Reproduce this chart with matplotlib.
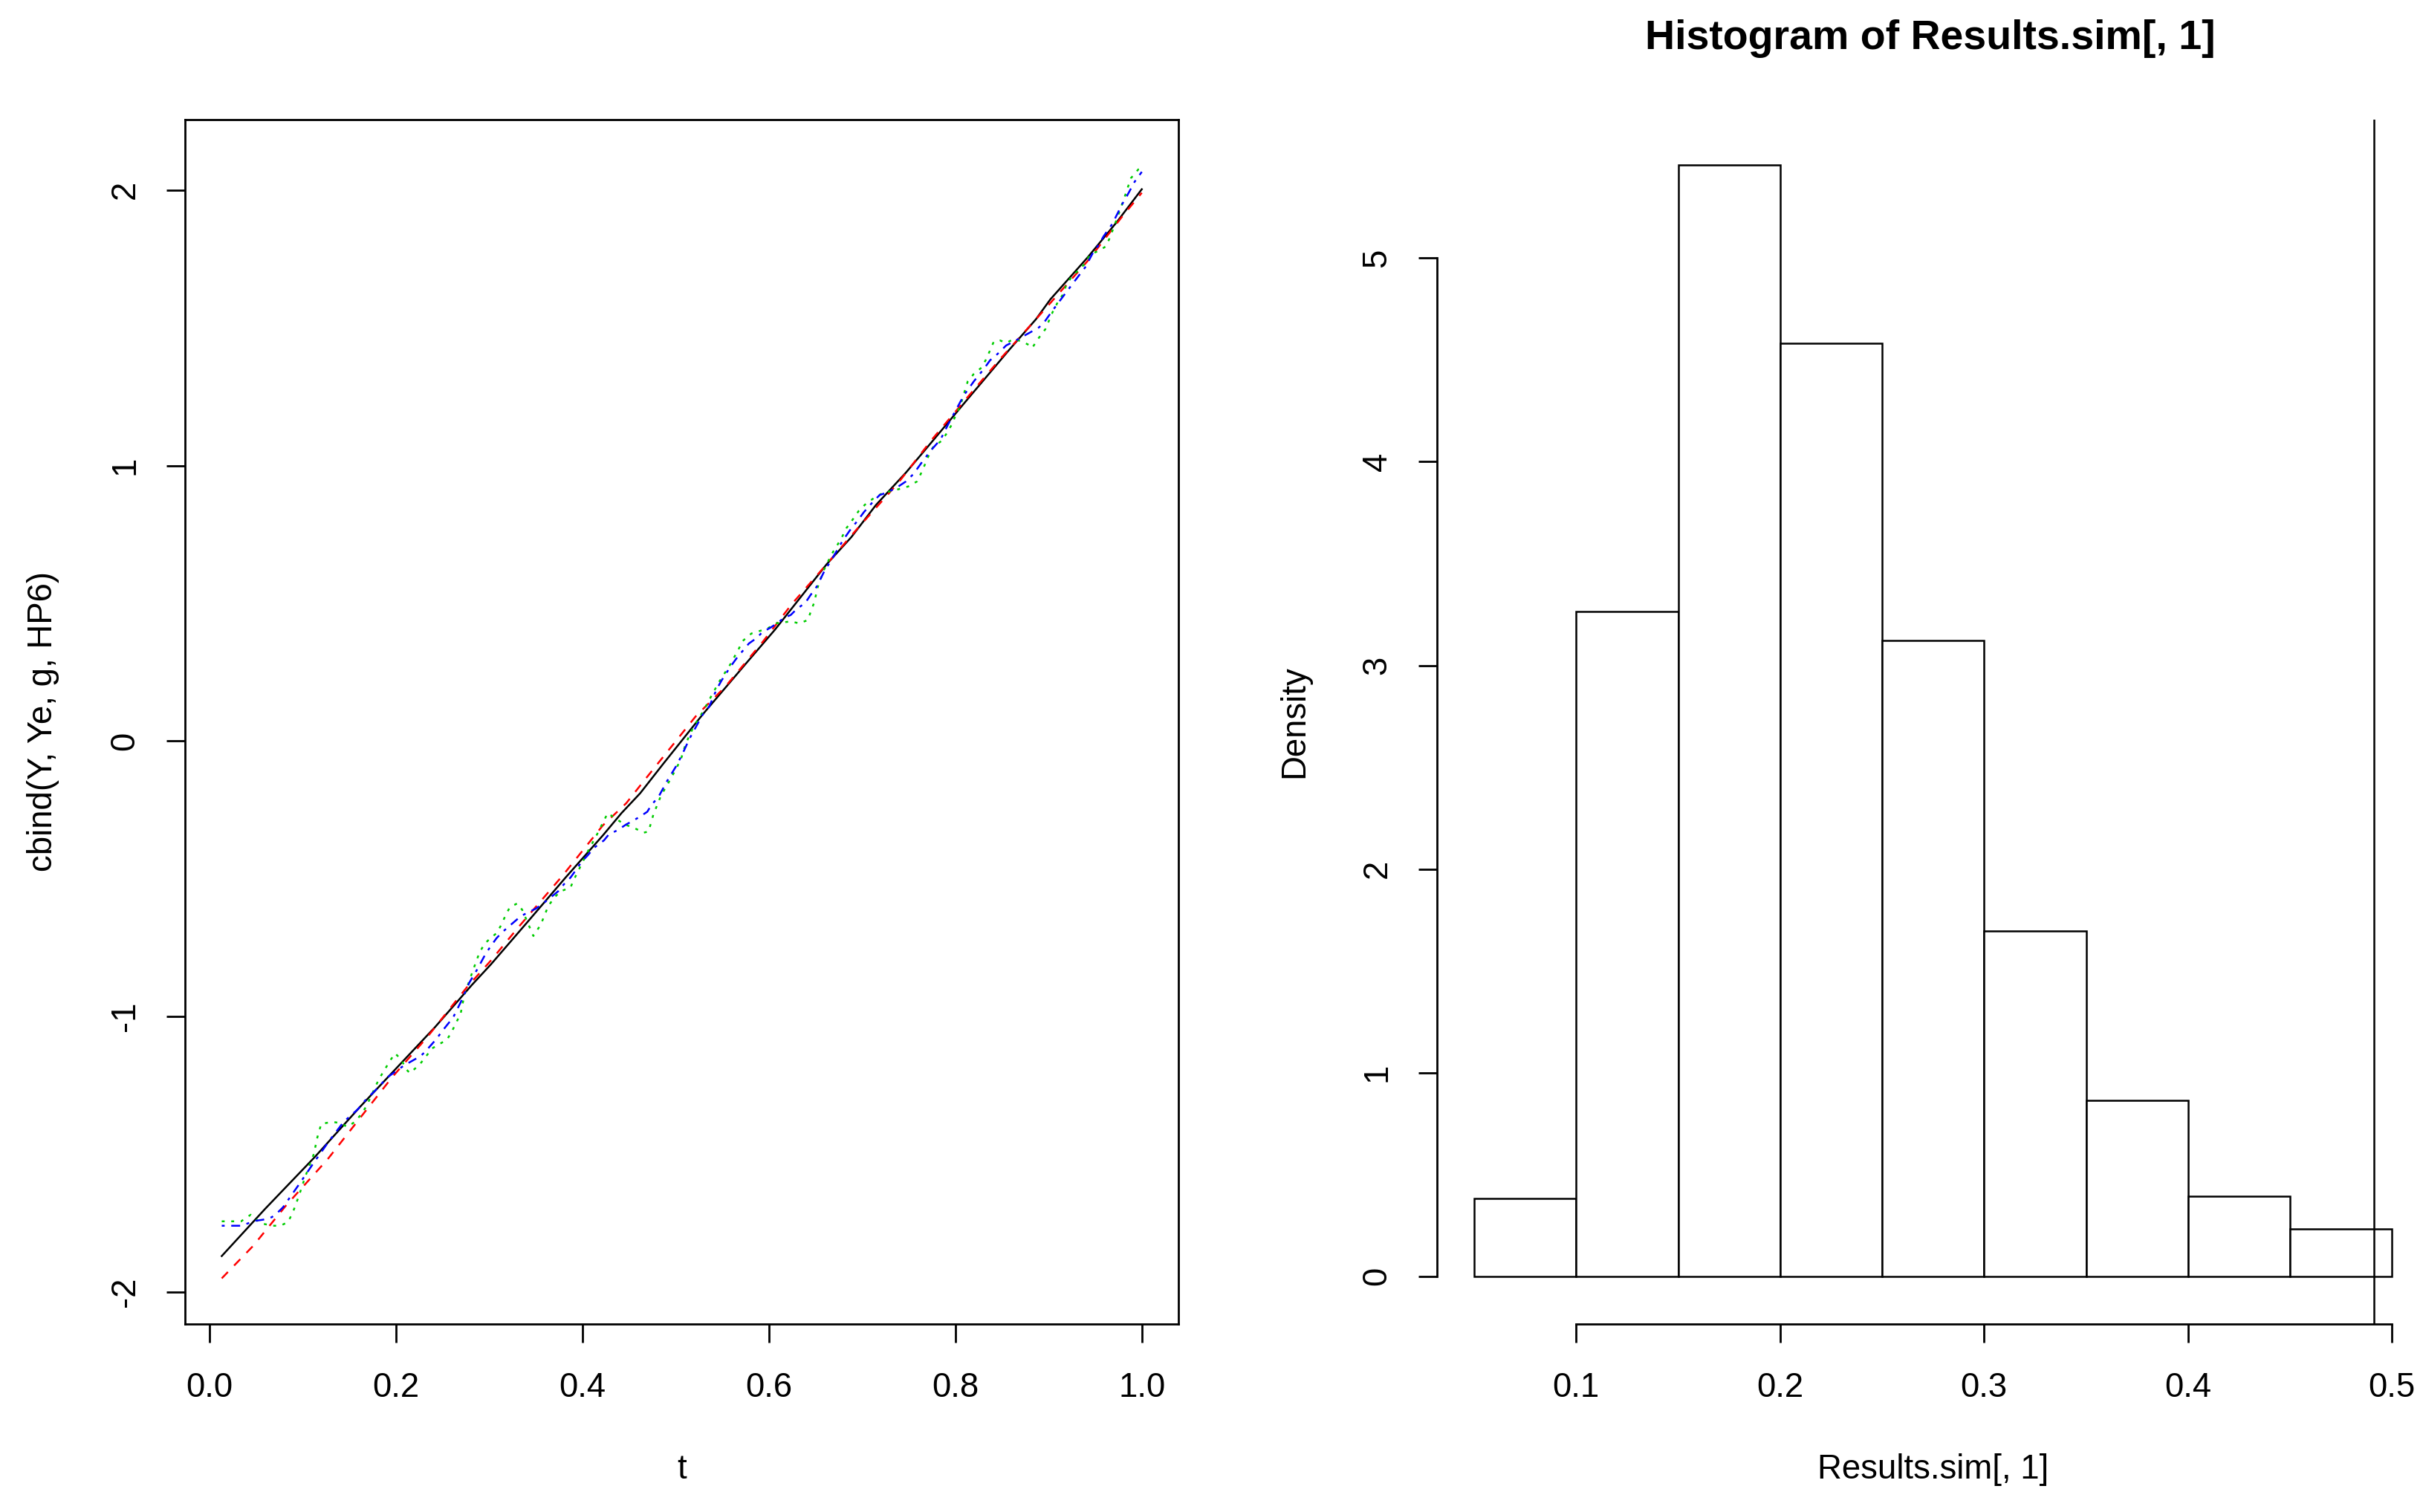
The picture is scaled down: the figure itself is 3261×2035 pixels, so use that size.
import matplotlib
matplotlib.use("Agg")
import matplotlib.pyplot as plt

plt.rcParams['font.family'] = ['Liberation Sans', 'DejaVu Sans']
plt.rcParams['axes.unicode_minus'] = False
plt.rcParams['lines.scale_dashes'] = False

# ---------------- data: left panel (matplot of Y, Ye, g, HP6 vs t) ----------------
t_Y = [0.0133, 0.060, 0.1135, 0.162, 0.202, 0.242, 0.2815, 0.302, 0.341, 0.382, 0.422,
       0.442, 0.462, 0.487, 0.5295, 0.5747, 0.6066, 0.6619, 0.6885, 0.715, 0.747, 0.7749,
       0.8147, 0.8573, 0.8865, 0.9019, 0.9418, 0.9737, 1.000]
Y = [-1.870, -1.698, -1.509, -1.327, -1.183, -1.039, -0.886, -0.811, -0.658, -0.496, -0.343,
     -0.262, -0.190, -0.082, 0.098, 0.278, 0.404, 0.641, 0.740, 0.857, 0.974, 1.086,
     1.247, 1.418, 1.531, 1.603, 1.755, 1.886, 2.003]

t_Ye = [0.0133, 0.047, 0.0816, 0.127, 0.1667, 0.196, 0.2337, 0.276, 0.302, 0.3315, 0.3793,
        0.4219, 0.4471, 0.467, 0.5215, 0.5534, 0.5933, 0.6247, 0.6619, 0.694, 0.739, 0.7749,
        0.8174, 0.8493, 0.8865, 0.9418, 0.979, 1.000]
Ye = [-1.951, -1.833, -1.689, -1.518, -1.347, -1.221, -1.075, -0.895, -0.797, -0.676, -0.487,
      -0.307, -0.226, -0.141, 0.089, 0.197, 0.359, 0.497, 0.641, 0.767, 0.938, 1.094,
      1.265, 1.391, 1.531, 1.742, 1.904, 1.990]

t_g = [0.0133, 0.034, 0.0444, 0.055, 0.068, 0.076, 0.0843, 0.0896, 0.096, 0.1029, 0.112,
       0.116, 0.120, 0.132, 0.140, 0.148, 0.156, 0.164, 0.1693, 0.1818, 0.1938, 0.1991,
       0.2057, 0.2111, 0.2151, 0.2257, 0.239, 0.255, 0.2603, 0.2695, 0.2735, 0.2828, 0.2895,
       0.2948, 0.3014, 0.308, 0.3134, 0.3174, 0.3222, 0.3301, 0.3355, 0.3435, 0.3475, 0.3554,
       0.3634, 0.370, 0.3767, 0.3873, 0.3913, 0.3966, 0.4059, 0.4152, 0.4245, 0.4272, 0.4372,
       0.4452, 0.4551, 0.4657, 0.471, 0.4763, 0.4843, 0.495, 0.5056, 0.5109, 0.5189, 0.5295,
       0.5388, 0.5468, 0.5587, 0.568, 0.572, 0.5813, 0.5986, 0.6073, 0.6234, 0.6326, 0.642,
       0.6446, 0.6486, 0.6526, 0.659, 0.6672, 0.6738, 0.6792, 0.6831, 0.6898, 0.6964, 0.7044,
       0.7137, 0.7217, 0.7403, 0.7496, 0.7589, 0.7642, 0.7709, 0.7762, 0.7855, 0.7908, 0.7961,
       0.8001, 0.8054, 0.808, 0.8134, 0.820, 0.828, 0.8333, 0.8413, 0.848, 0.8546, 0.8626,
       0.8719, 0.8798, 0.8825, 0.8886, 0.8966, 0.9045, 0.9099, 0.9152, 0.9192, 0.9245, 0.9312,
       0.9392, 0.9444, 0.9551, 0.9617, 0.9657, 0.9737, 0.9817, 0.9883, 0.9963, 1.000]
g = [-1.744, -1.744, -1.720, -1.751, -1.760, -1.760, -1.747, -1.711, -1.652, -1.581, -1.500,
     -1.437, -1.390, -1.383, -1.387, -1.401, -1.383, -1.351, -1.320, -1.228, -1.161, -1.134,
     -1.156, -1.192, -1.206, -1.174, -1.116, -1.084, -1.053, -0.990, -0.922, -0.832, -0.770,
     -0.738, -0.716, -0.698, -0.666, -0.635, -0.604, -0.590, -0.613, -0.676, -0.708, -0.667,
     -0.600, -0.568, -0.546, -0.532, -0.501, -0.465, -0.401, -0.343, -0.280, -0.262, -0.285,
     -0.303, -0.315, -0.333, -0.329, -0.266, -0.199, -0.136, -0.068, -0.010, 0.049, 0.107,
     0.166, 0.215, 0.278, 0.336, 0.363, 0.390, 0.408, 0.427, 0.434, 0.427, 0.439,
     0.466, 0.502, 0.560, 0.620, 0.677, 0.713, 0.745, 0.772, 0.803, 0.835, 0.862,
     0.884, 0.899, 0.915, 0.924, 0.942, 0.978, 1.032, 1.067, 1.090, 1.117, 1.148,
     1.180, 1.216, 1.247, 1.306, 1.333, 1.355, 1.387, 1.450, 1.454, 1.445, 1.459,
     1.450, 1.436, 1.427, 1.459, 1.495, 1.558, 1.593, 1.620, 1.657, 1.684, 1.706,
     1.733, 1.765, 1.782, 1.796, 1.827, 1.899, 1.976, 2.043, 2.075, 2.080]

t_HP6 = [0.0133, 0.034, 0.0417, 0.0497, 0.0577, 0.067, 0.0736, 0.079, 0.0856, 0.0976, 0.111,
         0.127, 0.144, 0.159, 0.1672, 0.1752, 0.1832, 0.1898, 0.1964, 0.2084, 0.2177, 0.227,
         0.2323, 0.243, 0.251, 0.2616, 0.2695, 0.2789, 0.2868, 0.2961, 0.3014, 0.308, 0.3142,
         0.3248, 0.3341, 0.3421, 0.3501, 0.358, 0.366, 0.374, 0.3806, 0.3873, 0.3939, 0.3993,
         0.4059, 0.4125, 0.4232, 0.4285, 0.4378, 0.4471, 0.4537, 0.4617, 0.4697, 0.4737, 0.4817,
         0.491, 0.5016, 0.5082, 0.5149, 0.5215, 0.5295, 0.5361, 0.5441, 0.5494, 0.5587, 0.5654,
         0.572, 0.5787, 0.5867, 0.5928, 0.6021, 0.610, 0.6167, 0.6234, 0.630, 0.6393, 0.6446,
         0.6513, 0.6592, 0.6699, 0.6792, 0.6885, 0.6951, 0.7018, 0.7124, 0.719, 0.727, 0.739,
         0.747, 0.7536, 0.7589, 0.7655, 0.7749, 0.7841, 0.7921, 0.8001, 0.8094, 0.820, 0.8307,
         0.8373, 0.8453, 0.8546, 0.8639, 0.8727, 0.8807, 0.890, 0.8966, 0.9033, 0.9152, 0.9272,
         0.9392, 0.9471, 0.9537, 0.959, 0.9683, 0.9737, 0.979, 0.9843, 0.9923, 1.000]
HP6 = [-1.760, -1.760, -1.751, -1.742, -1.738, -1.729, -1.711, -1.693, -1.661, -1.603, -1.536,
       -1.459, -1.383, -1.338, -1.305, -1.278, -1.251, -1.224, -1.208, -1.179, -1.161, -1.143,
       -1.125, -1.084, -1.048, -1.003, -0.949, -0.877, -0.832, -0.774, -0.747, -0.716, -0.694,
       -0.663, -0.636, -0.622, -0.609, -0.590, -0.568, -0.546, -0.519, -0.496, -0.465, -0.438,
       -0.415, -0.388, -0.361, -0.339, -0.324, -0.303, -0.291, -0.275, -0.257, -0.234, -0.203,
       -0.145, -0.086, -0.041, 0.008, 0.049, 0.098, 0.125, 0.188, 0.220, 0.269, 0.300,
       0.327, 0.354, 0.373, 0.394, 0.412, 0.430, 0.448, 0.457, 0.479, 0.502, 0.529,
       0.560, 0.614, 0.673, 0.727, 0.772, 0.799, 0.830, 0.871, 0.893, 0.902, 0.924,
       0.942, 0.964, 0.987, 1.018, 1.059, 1.094, 1.148, 1.198, 1.256, 1.306, 1.351,
       1.382, 1.405, 1.436, 1.452, 1.469, 1.484, 1.502, 1.526, 1.558, 1.612, 1.666,
       1.719, 1.769, 1.800, 1.832, 1.877, 1.913, 1.949, 1.980, 2.030, 2.066]

left_xticks = [0.0, 0.2, 0.4, 0.6, 0.8, 1.0]
left_xticklabels = ["0.0", "0.2", "0.4", "0.6", "0.8", "1.0"]
left_yticks = [-2, -1, 0, 1, 2]
left_yticklabels = ["-2", "-1", "0", "1", "2"]

# ---------------- data: right panel (histogram densities) ----------------
bin_left = [0.05, 0.10, 0.15, 0.20, 0.25, 0.30, 0.35, 0.40, 0.45]
bin_width = 0.05
density = [0.383, 3.264, 5.458, 4.581, 3.123, 1.696, 0.863, 0.392, 0.233]
vline_x = 0.491
right_xticks = [0.1, 0.2, 0.3, 0.4, 0.5]
right_xticklabels = ["0.1", "0.2", "0.3", "0.4", "0.5"]
right_yticks = [0, 1, 2, 3, 4, 5]
right_yticklabels = ["0", "1", "2", "3", "4", "5"]

# ---------------- figure ----------------
W, H = 3261, 2035
DPI = 200
fig = plt.figure(figsize=(W / DPI, H / DPI), dpi=DPI)
fig.patch.set_facecolor('white')

ax_top, ax_bot = 160.7, 1781.7
ax1 = fig.add_axes([249 / W, 1 - ax_bot / H, (1586 - 249) / W, (ax_bot - ax_top) / H])
ax2 = fig.add_axes([1934 / W, 1 - ax_bot / H, (3261 - 1934) / W, (ax_bot - ax_top) / H])

LW = 0.9
FS = 16.4
TICKLEN = 9

# left panel
ax1.plot(t_Y, Y, color='black', lw=LW, ls='-')
ax1.plot(t_Ye, Ye, color='#FF0000', lw=LW, ls=(0, (4.3, 4.3)))
ax1.plot(t_g, g, color='#00CD00', lw=LW, ls=(0, (1.4, 3.2)))
ax1.plot(t_HP6, HP6, color='#0000FF', lw=LW, ls=(0, (1.4, 3.2, 4.3, 3.2)))
ax1.set_xlim(-0.0261, 1.0393)
ax1.set_ylim(-2.116, 2.2565)
ax1.set_xticks(left_xticks)
ax1.set_xticklabels(left_xticklabels)
ax1.set_yticks(left_yticks)
ax1.set_yticklabels(left_yticklabels, rotation=90, va='center')
for s in ax1.spines.values():
    s.set_linewidth(1.0)
ax1.tick_params(direction='out', length=TICKLEN, width=1.0, labelsize=FS, pad=14)
ax1.tick_params(axis='y', pad=12)
ax1.set_xlabel('t', fontsize=FS)
ax1.set_ylabel('cbind(Y, Ye, g, HP6)', fontsize=FS)
ax1.xaxis.set_label_coords(0.5, -0.1211)
ax1.xaxis.label.set_va('center')
ax1.yaxis.set_label_coords(-0.1429, 0.5)
ax1.yaxis.label.set_va('center')

# right panel
ax2.bar(bin_left, density, width=bin_width, align='edge', facecolor='white',
        edgecolor='black', linewidth=LW)
ax2.axvline(vline_x, color='black', lw=LW)
ax2.set_xlim(0.03177, 0.5152)
ax2.set_ylim(-0.233, 5.681)
ax2.set_xticks(right_xticks)
ax2.set_xticklabels(right_xticklabels)
ax2.set_yticks(right_yticks)
ax2.set_yticklabels(right_yticklabels, rotation=90, va='center')
ax2.spines['top'].set_visible(False)
ax2.spines['right'].set_visible(False)
ax2.spines['left'].set_bounds(0, 5)
ax2.spines['bottom'].set_bounds(0.1, 0.5)
ax2.spines['left'].set_linewidth(1.0)
ax2.spines['bottom'].set_linewidth(1.0)
ax2.tick_params(direction='out', length=TICKLEN, width=1.0, labelsize=FS, pad=14)
ax2.tick_params(axis='y', pad=12)
ax2.set_xlabel('Results.sim[, 1]', fontsize=FS)
ax2.set_ylabel('Density', fontsize=FS)
ax2.xaxis.set_label_coords(0.503, -0.1211)
ax2.xaxis.label.set_va('center')
ax2.yaxis.set_label_coords(-0.1448, 0.5)
ax2.yaxis.label.set_va('center')
ax2.set_title('Histogram of Results.sim[, 1]', fontsize=20, fontweight='bold', pad=34)

fig.savefig('out.png', dpi=DPI, facecolor='white')
